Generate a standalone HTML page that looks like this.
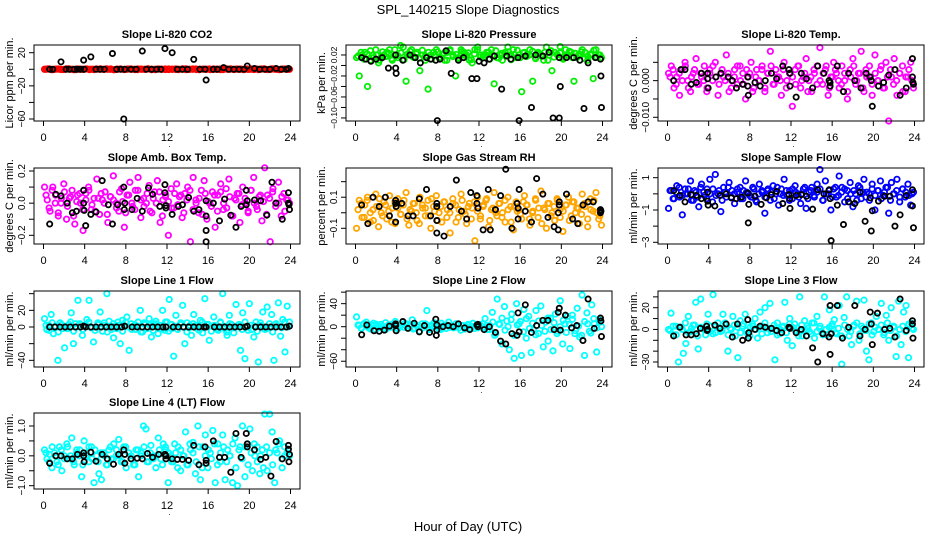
<!DOCTYPE html>
<html><head><meta charset="utf-8"><title>SPL_140215 Slope Diagnostics</title>
<style>html,body{margin:0;padding:0;background:#fff}svg{display:block;font-family:"Liberation Sans",Arial,sans-serif}</style>
</head><body>
<svg id="chart" width="936" height="540" viewBox="0 0 936 540" xmlns="http://www.w3.org/2000/svg">
<rect width="936" height="540" fill="#fff"/>
<text x="468" y="14" font-size="13" text-anchor="middle">SPL_140215  Slope Diagnostics</text>
<text x="468" y="531" font-size="13" text-anchor="middle">Hour of Day (UTC)</text>
</svg>
<script>
const xTicks=[0,4,8,12,16,20,24];

const co2Values=[0,0.5,-0.5,0,0.3,-0.3,0,0.5,0,-0.5,0.2,0,0.4,-0.4,0,0.3,0,-0.2,0.5,0,-0.5,0,0.3,-0.3,0,0.4,0,-0.4,0.2,0,0.5,-0.5,0,0.3,0,-0.3,0.4,0,-0.2,0,0.5,-0.5,0,0.3,-0.3,0,0.2,0,-0.4,0.4,0,-0.5,0.3,0,0.5,-0.3,0,0.2,0,-0.2,0.4,0,-0.4,0.3,0,-0.3,0.5,0,-0.5,0.2,0,0];
const co2Core=[0,0.4,-0.4,0.2,0,-0.3,0.5,0,-0.5,0.3,0,-0.2,0.4,0,-0.4,0.1,0.5,-0.1,0,0.3,-0.5,0,0.2,-0.3,0.4,0,-0.4,0.3,0,-0.2,0.5,0,-0.5,0.2,0,0.4,-0.3,0,0.3,-0.4,0,0.5,-0.2,0,0.3,-0.5,0.1,0,0.4,-0.3,0,0.2,-0.4,0.5,0,-0.2,0.3,0,-0.5,0.4,0,-0.3,0.2,0,0.5,-0.4,0,0.3,-0.1,0,0.4,0];
const co2BlackHours=[0.6,0.9,1.7,2.2,2.5,3,3.3,3.6,3.9,3.95,4.6,5.1,5.5,5.9,6.7,7.1,7.5,7.8,7.9,8.5,9,9.6,10,10.5,11,11.4,11.8,12.5,13,13.5,14,14.6,15.2,15.7,15.8,16.5,16.9,17.5,18,18.5,19,19.5,19.8,20.5,21,21.5,22,22.6,23.1,23.6,23.8];
const co2BlackValues=[0,0,9,0,0,0,0,0,11,0,15,0,0,0,19,0,0,-60,0,0,0,22,0,0,0,0,25,20,0,0,0,12,0,0,-13,0,0,2,0,0,0,0,4,1,0,0,0,1,0,0,1];

const presValues=[0.015,-0.02,0.02,0.025,-0.04,0.01,0.02,0.03,0.005,0.015,0.02,0.025,0.03,0.01,0.02,0.015,0.038,0.035,-0.03,0.02,0.03,0.015,0.025,-0.01,0.02,0.01,-0.045,0.02,0.025,0.03,0.015,0.02,0.01,0.025,0.03,0.02,-0.02,0.015,0.03,0.025,0.02,0.01,0.005,0.03,0.035,0.02,0.015,0.02,0.025,0.03,-0.035,0.015,0.02,0.01,0.025,0.035,0.02,0.03,0.015,0.02,-0.05,0.025,0.02,0.03,-0.03,0.015,0.025,0.02,0.01,0.035,0.02,-0.01,0.025,0.02,0.036,0.015,0.03,0.02,0.025,-0.03,0.015,0.02,0.03,0.025,0.01,0.02,-0.025,0.03,0.02,0.015];
const presCore=[0.018,0.025,0.012,0.022,0.028,0.015,0.02,0.01,0.026,0.017,0.023,0.013,0.03,0.019,0.024,0.011,0.021,0.027,0.016,0.022,0.014,0.029,0.018,0.025,0.012,0.02,0.026,0.015,0.023,0.01,0.028,0.017,0.021,0.013,0.027,0.019,0.024,0.011,0.022,0.03,0.016,0.02,0.025,0.012,0.018,0.028,0.014,0.023,0.019,0.026,0.011,0.021,0.029,0.015,0.024,0.017,0.02,0.027,0.013,0.022,0.018,0.025,0.01,0.028,0.016,0.021,0.024,0.012,0.019,0.027,0.015,0.023,0.02,0.026,0.013,0.018,0.022,0.029,0.016,0.02];
const presBlackHours=[0.6,1,1.5,2,2.6,3.2,3.9,3.95,3.9,4.6,5.3,5.8,6.3,6.9,7.3,7.8,7.95,8.2,8.8,9.3,10,10.5,11.3,11.8,12,12.5,13,13.5,14.2,14.7,15.1,15.8,15.9,16.5,17.1,17.5,18.2,18.8,19.2,19.8,19.9,19.8,20.5,21.2,21.8,22.2,22.6,23.3,23.8,23.85,23.9];
const presBlackValues=[0.015,0.012,0.008,0.012,0.015,-0.005,0.02,-0.015,-0.005,0.01,0.02,0.015,0.005,0.015,0.012,0.01,-0.105,0.012,0.028,-0.015,0.01,0.015,-0.025,-0.025,0.008,0.005,0.012,0.018,-0.045,0.018,0.012,0.015,-0.105,0.018,-0.08,0.02,0.018,0.025,-0.1,-0.1,-0.04,0.015,0.015,0.015,0.01,-0.082,0.005,0.015,0.012,-0.02,-0.08];

const ltempValues=[0.002,0.004,-0.002,0.001,-0.004,0.003,0.005,0.000,-0.003,0.002,0.006,-0.001,0.001,0.004,-0.002,0.003,0.000,0.005,-0.004,0.002,0.001,0.007,-0.003,0.000,0.003,-0.001,0.004,0.002,-0.005,0.001,0.005,-0.002,0.003,0.000,0.004,-0.003,0.002,0.008,-0.001,0.003,0.001,-0.004,0.005,0.000,0.002,-0.007,0.003,0.004,-0.002,0.001,0.006,0.000,-0.003,0.002,0.004,0.009,-0.001,0.003,-0.004,0.001,0.005,0.002,-0.002,0.004,0.000,-0.005,0.003,0.006,-0.001,0.002,0.008,-0.003,0.001,0.004,-0.004,0.007,0.000,0.003,-0.002,0.005,-0.011,0.001,0.006,-0.004,0.002,0.004,-0.003,0.001,0.005,-0.002];
const ltempCore=[0.001,0.003,-0.001,0.002,0,0.004,-0.002,0.001,0.003,-0.001,0.002,0,-0.003,0.002,0.004,0.001,-0.001,0.003,0,0.002,-0.002,0.001,0.004,0,-0.001,0.003,0.002,-0.003,0.001,0,0.003,-0.002,0.002,0.004,-0.001,0.001,0,0.003,-0.002,0.002,0.001,-0.001,0.004,0,0.002,-0.003,0.001,0.003,-0.001,0,0.002,0.004,-0.002,0.001,0.003,0,-0.001,0.002,-0.003,0.001,0.004,0,0.002,-0.002,0.003,0.001,-0.001,0.002,0,0.004,-0.002,0.001,0.003,-0.001,0,0.002,-0.003,0.001,0.003,0];
const ltempBlackHours=[0.6,1.3,1.7,2.3,2.8,3.3,3.9,3.9,3.95,4.7,5.2,5.9,6.3,6.7,7.3,7.8,7.8,7.85,8.5,9,9.5,10.1,10.6,11.2,11.8,11.9,11.9,12.5,13,13.5,14.1,14.6,15.2,15.7,15.8,15.8,16.5,17.1,17.6,18.2,18.8,19.3,19.7,19.8,19.9,20.5,21,21.5,22.1,22.6,23.2,23.8,23.8,23.85,23.9];
const ltempBlackValues=[0.000,0.003,0.003,-0.001,-0.0005,0.002,0.002,0.0005,-0.002,0.001,0.002,0.001,0.000,-0.002,-0.001,0.001,-0.0015,-0.004,-0.0005,-0.0015,0.000,0.002,0.0005,0.004,0.003,0.002,-0.0015,-0.0045,0.002,0.0005,-0.002,0.004,0.002,0.000,-0.0005,-0.0015,0.004,-0.003,0.002,0.000,-0.002,0.002,0.001,0.000,-0.007,-0.0015,-0.0005,0.0015,0.003,-0.004,-0.002,0.006,0.001,-0.0005,-0.001];

const ambValues=[0.1,0.02,-0.05,0.1,0.05,-0.08,0.0,0.12,-0.1,0.03,0.08,-0.13,0.05,0.0,-0.17,0.06,0.1,-0.04,0.03,0.15,-0.07,0.02,0.07,-0.12,0.04,0.17,0.0,-0.05,0.09,-0.15,0.05,0.13,-0.02,0.08,0.16,-0.09,0.03,0.0,0.11,-0.06,0.07,0.14,-0.12,0.02,0.05,-0.2,0.09,-0.03,0.12,0.04,-0.09,0.06,0.1,-0.24,0.16,0.02,-0.06,0.08,0.14,-0.1,0.0,0.07,-0.15,0.05,0.12,-0.04,0.09,0.15,-0.08,0.03,0.06,-0.12,0.1,0.0,-0.05,0.08,0.16,-0.02,0.04,-0.11,0.22,0.05,-0.24,0.09,0.0,0.13,-0.08,0.06,0.02,0.0];
const ambCore=[0.05,-0.03,0.08,0,-0.06,0.03,0.07,-0.02,0.04,-0.08,0.01,0.06,-0.04,0.02,0.08,-0.01,-0.05,0.03,0.06,0,-0.07,0.04,0.02,-0.03,0.07,0.01,-0.06,0.05,0,-0.04,0.08,0.02,-0.02,0.06,-0.05,0.03,0,0.07,-0.08,0.04,0.01,-0.03,0.06,-0.01,0.05,-0.06,0.02,0.08,-0.04,0,0.03,-0.07,0.06,0.01,-0.02,0.05,-0.05,0.07,0,-0.03,0.04,-0.08,0.02,0.06,-0.01,0.03,-0.06,0.08,0,-0.04,0.05,0.01,-0.07,0.03,0.07,-0.02,0,0.04,-0.05,0.02];
const ambBlackHours=[0.6,1.2,1.7,2.3,2.8,3.2,3.9,3.9,3.95,4.1,4.6,5.1,5.7,6.3,6.7,7.2,7.8,7.9,7.85,8.6,9.1,9.6,10.2,10.6,11.3,11.8,11.8,11.9,11.9,12.5,13.1,13.5,14.1,14.6,15.1,15.8,15.8,15.8,15.8,16.5,17.1,17.6,18.2,18.7,19.2,19.7,19.8,19.7,20.5,21.1,21.7,22.2,22.6,23.2,23.8,23.8,23.85,23.9];
const ambBlackValues=[-0.13,0.055,0.045,0.0,-0.06,-0.05,0.08,0.0,-0.045,-0.14,-0.07,-0.055,0.14,-0.01,-0.13,-0.01,0.1,0.0,-0.04,-0.04,0.03,-0.05,0.095,0.055,-0.02,0.115,0.065,-0.015,-0.03,-0.07,-0.02,-0.01,0.035,-0.05,-0.04,0.015,-0.08,-0.17,-0.24,0.0,-0.11,0.025,-0.075,-0.15,-0.02,0.08,0.015,-0.01,0.02,0.015,-0.075,0.13,0.0,-0.1,0.065,0.0,-0.01,-0.04];

const rhValues=[-0.1,0.08,-0.03,0.05,0.1,-0.06,0.02,0.12,-0.09,0.0,0.07,-0.04,0.11,0.03,-0.07,0.09,-0.01,0.05,0.13,-0.08,0.01,0.06,-0.05,0.1,0.03,-0.02,0.08,-0.1,0.04,0.11,0.0,-0.06,0.07,0.02,-0.13,0.09,0.05,-0.03,0.12,0.01,-0.07,0.06,0.03,-0.18,0.1,-0.04,0.04,0.08,-0.09,0.02,0.13,-0.02,0.06,0.0,-0.06,0.1,0.04,-0.11,0.07,0.02,-0.04,0.11,0.05,-0.08,0.01,0.09,-0.03,0.14,0.03,-0.1,0.06,0.0,-0.05,0.08,0.02,-0.12,0.05,0.1,-0.02,0.07,0.03,-0.07,0.12,0.04,-0.09,0.09,0.01,0.13,-0.04,-0.08];
const rhCore=[0.02,0.06,-0.03,0.08,0,-0.05,0.04,0.09,-0.02,0.05,0.01,-0.06,0.07,0.03,-0.01,0.08,-0.04,0.02,0.06,0,-0.07,0.05,0.03,-0.02,0.09,0.01,-0.05,0.04,0.07,-0.03,0,0.06,-0.06,0.02,0.08,-0.01,0.04,-0.04,0.07,0.01,-0.02,0.05,0.09,-0.05,0.03,0,0.06,-0.03,0.08,0.02,-0.06,0.04,0.01,-0.01,0.07,0.05,-0.04,0,0.08,0.03,-0.07,0.02,0.06,-0.02,0.04,0.09,-0.03,0.01,0.05,-0.05,0.07,0,0.03,-0.01,0.06,-0.04,0.02,0.08,0,-0.02];
const rhBlackHours=[0.6,1.2,1.7,2.3,2.9,3.3,3.9,3.9,3.95,3.9,4.5,5.1,5.6,6.2,6.9,7.3,7.9,7.9,7.9,7.9,8.6,9.2,9.8,10.3,10.8,11.2,11.8,11.8,11.9,12.4,12.9,13.1,13.6,14.1,14.6,15.2,15.7,15.8,15.8,15.9,16.5,17.1,17.6,18.2,18.7,19.3,19.8,19.8,19.7,19.7,20.5,21.1,21.6,22.1,22.6,23.1,23.8,23.8,23.85];
const rhBlackValues=[0.05,-0.07,0.1,0.04,0.1,-0.02,0.08,0.06,0.04,-0.06,0.06,-0.02,-0.02,0.09,0.15,-0.02,0.06,0.04,-0.05,-0.13,-0.15,0.04,0.21,0.01,-0.04,0.13,0.11,0.06,0.03,-0.11,0.15,-0.11,0.02,0.11,0.28,-0.1,0.06,0.03,-0.04,0.15,0.01,-0.06,0.22,0.12,-0.03,-0.09,0.07,0.05,-0.11,0.0,0.12,-0.04,-0.07,0.05,0.07,0.07,0.02,0.0,0.01];

const sflowValues=[-0.9,0.2,-0.3,0.5,-0.2,-1.3,0.3,0.0,0.8,-0.4,0.1,-0.8,0.6,-0.1,0.3,0.9,-0.5,1.2,0.0,-1.1,0.4,-0.2,0.7,0.2,-0.6,0.1,0.4,-0.3,0.8,0.0,-0.2,0.3,-0.5,0.6,0.1,-1.2,0.2,-0.4,0.5,0.0,-0.7,0.3,0.9,-0.1,0.2,-0.3,0.5,0.0,-0.6,0.3,-0.9,0.1,0.4,-0.2,0.6,1.5,-0.4,0.8,0.0,-1.0,0.3,-0.2,1.1,0.4,-0.5,0.2,0.7,-0.8,0.0,0.5,-0.3,0.9,0.1,-0.4,0.6,-1.0,0.2,0.8,-0.1,0.4,-1.2,0.7,0.0,0.9,-0.5,0.3,-0.2,0.6,-0.7,0.1];
const sflowCore=[0.2,-0.3,0.1,0.4,-0.1,0,0.3,-0.4,0.2,-0.2,0.4,0.1,-0.3,0,0.3,-0.1,0.2,-0.4,0.1,0.4,-0.2,0,0.3,-0.3,0.2,0.1,-0.1,0.4,-0.4,0,0.2,-0.2,0.3,0.1,-0.3,0.4,0,-0.1,0.2,-0.4,0.3,0.1,-0.2,0,0.4,-0.3,0.2,-0.1,0.1,0.3,-0.4,0,0.2,-0.2,0.4,-0.1,0.1,0.3,-0.3,0,0.2,-0.4,0.4,0.1,-0.2,0,0.3,-0.1,0.2,-0.3,0.1,0.4,-0.4,0,0.2,-0.2,0.3,0.1,-0.1,0];
const sflowBlackHours=[0.6,1.2,1.7,2.3,2.8,3.3,3.9,3.9,3.95,4.6,5.1,5.7,6.2,6.7,7.2,7.8,7.9,7.85,8.5,9.1,9.6,10.1,10.6,11.2,11.8,11.9,11.9,12.5,13,13.5,14.1,14.6,15.2,15.7,15.8,15.9,16.5,17.1,17.6,18.2,18.7,19.2,19.7,19.8,19.9,20.5,21.1,21.6,22.1,22.6,23.2,23.8,23.8,23.9];
const sflowBlackValues=[0.2,-0.1,-0.5,-0.05,-0.1,-0.3,0.1,-0.45,-0.7,-0.75,-0.1,0.0,-0.25,-0.3,-0.2,0.05,-0.65,-1.8,-0.15,-0.65,-0.25,-0.05,0.15,-0.6,-0.05,-0.3,-0.9,-0.1,-0.05,-0.15,-0.95,0.25,0.0,0.25,-0.3,-2.9,-0.7,-1.9,-0.5,-0.6,0.1,-1.7,-0.25,-2.3,-1.05,-0.45,-0.15,-0.15,-2.0,-1.3,-0.1,0.25,-0.75,-2.1];

const l1Values=[10,-3,2,15,-8,1,-40,5,-2,-25,0,3,17,-20,4,32,3,-10,2,9,32,-1,-18,0,5,18,-5,2,40,7,-3,-13,2,6,-20,8,1,12,-28,4,0,-3,6,20,-6,3,-2,10,-12,4,7,-8,2,20,-4,6,33,-2,-35,14,0,3,26,-20,5,-1,-10,15,2,-3,8,-7,34,3,-16,1,12,0,-4,6,40,-2,-10,14,3,-7,27,1,-28,17,-38,0,28,-3,-12,6,-42,2,18,-3,24,0,15,-40,4,29,-11,9,-30,25,6];
const l1Core=[2,-4,5,0,-6,3,1,-2,6,-5,0,4,-3,2,6,-1,-4,3,0,5,-6,1,4,-2,2,-5,6,0,-3,3,1,-6,5,-1,2,-4,4,0,-2,6,-5,3,1,-3,5,0,-6,2,4,-1,-4,6,0,3,-5,2,-2,5,1,-6,4,-1,0,3,-3,6,-4,2,1,-5,5,0,-2,4,-6,3,1,-1,6,0];
const l1BlackHours=[0.6,1.1,1.6,2.1,2.6,3.1,3.6,3.9,4.1,4.6,5.1,5.6,6.1,6.6,7.1,7.6,7.9,8.6,9.1,9.6,10.1,10.6,11.1,11.6,11.9,12.6,13.1,13.6,14.1,14.6,15.1,15.6,15.8,16.6,17.1,17.6,18.1,18.6,19.1,19.6,19.8,20.6,21.1,21.6,22.1,22.6,23.1,23.6,23.9];
const l1BlackValues=[0,0,0,0,0,0,0,1,0,0,0,0,0,0,0,0,1,0,0,0,0,0,0,0,0,0,0,0,0,0,0,0,0,0,0,0,0,0,0,0,1,0,0,0,0,0,0,0,1];

const l2Values=[17,2,-3,5,8,-2,3,6,-5,1,4,-3,7,2,-1,5,9,-4,0,3,6,-2,4,12,-3,1,-8,5,2,28,-5,3,7,0,-4,6,2,-3,8,1,-2,5,3,-6,2,0,4,-3,6,1,-2,3,5,14,-5,2,25,-15,48,4,-30,35,10,-40,22,-55,40,5,-50,30,-20,18,-45,-5,28,-12,36,-35,8,-25,15,-42,22,-8,45,-30,5,18,-38,20,-12,32,-18,55,-50,24,-8,38,5,-44,12,0];
const l2Core=[3,-2,5,0,-4,2,4,-1,1,-5,3,0,5,-3,2,-1,4,0,-4,3,1,-2,5,-3,0,2,4,-5,1,3,-1,0,5,-2,2,-4,3,1,-3,4,0,-1,2,-5,8,-12,5,15,-6,0,12,-15,3,9,-9,14,-3,6,-14,10,2,-8,15,-5,7,-12,0,11,-10,4,13,-7,1,-15,9,5,-11,14,-2,8];
const l2BlackHours=[0.6,1.1,1.8,2.3,2.8,3.3,3.9,3.9,3.95,4.6,5.1,5.7,6.2,6.7,7.2,7.8,7.9,7.9,7.85,8.5,9,9.5,10,10.6,11.1,11.8,11.9,11.9,12.5,13,13.6,14.1,14.6,15.2,15.7,15.8,15.9,16.5,17.1,17.6,18.2,18.7,19.3,19.7,19.8,19.9,20.4,21,21.5,22.1,22.6,23.2,23.8,23.85,23.9];
const l2BlackValues=[-14,3,-7,-8,-6,1,5,2,-7,9,-3,6,-9,2,-10,13,3,-6,-15,0,2,0,5,-2,-5,3,0,4,-5,0,-10,-25,-30,-12,-15,24,-9,38,-10,2,11,11,-5,25,32,-6,20,-2,2,-24,48,-3,15,10,-17];

const l3Values=[0,15,-5,3,-30,2,-22,-13,12,-2,4,25,-18,28,1,-5,14,3,32,-3,6,-2,14,4,-20,1,12,-6,-26,8,3,14,-4,2,5,10,-8,16,3,20,-3,24,1,-28,6,-4,2,25,-10,10,-15,5,1,30,-6,8,3,-2,6,-8,12,1,-3,30,-5,18,3,9,-4,22,-32,11,30,-6,-14,4,26,-10,3,27,-20,-28,6,-2,12,0,24,-5,13,-10,20,3,-25,26,-14,16,22,-26,6,0];
const l3Core=[-1,3,-5,2,0,6,-3,1,4,-6,2,0,5,-2,-4,3,1,-1,6,-5,0,4,2,-3,5,-1,-6,3,0,2,-4,6,1,-2,4,-5,0,3,-3,5,2,-1,-6,4,0,1,-4,6,-2,3,-5,0,2,5,-3,1,-6,4,0,-2,3,6,-4,1,-1,5,-5,2,0,4,-3,6,-1,2,-6,0,3,-2,5,1];
const l3BlackHours=[0.6,1.2,1.8,2.3,2.8,3.2,3.8,3.9,3.85,4.6,5.1,5.7,6.3,6.8,7.3,7.8,7.9,7.85,8.5,9,9.5,10.1,10.6,11.1,11.8,11.9,12.5,13,13.5,14.1,14.6,15.1,15.7,15.8,15.8,15.9,16.5,17,17.6,18.2,18.7,19.2,19.7,19.8,19.9,20.4,21.1,21.6,22.1,22.6,23.2,23.8,23.8,23.85];
const l3BlackValues=[-6,2,-5,-5,-4,1,3,0,-1,4,1,5,-7,5,-10,9,-3,-8,0,3,2,1,-1,-3,2,1,-3,0,-6,-17,-30,-4,-7,22,-23,-4,22,-8,2,22,-6,0,16,5,-14,15,0,1,-7,28,-1,8,5,-8];

const l4Values=[0.2,-0.1,0.05,-0.4,0.1,-0.2,0.3,-0.5,0.0,0.4,-0.1,0.6,-0.3,0.2,0.0,-0.7,0.5,0.1,-0.2,0.3,-0.9,0.0,-0.6,-0.8,0.1,-0.3,0.2,-0.1,0.4,0.0,0.55,-0.2,0.3,-0.4,0.1,0.0,-0.3,0.2,-0.7,0.1,1.0,0.9,-0.2,0.35,0.0,-0.4,0.6,-0.1,0.4,0.2,-0.9,0.0,-0.2,0.1,0.3,-0.5,0.0,0.8,-0.3,0.2,0.45,-0.6,1.0,-0.8,0.3,0.7,-0.4,0.1,0.85,-0.9,0.4,-0.2,0.7,-0.8,0.2,0.0,-0.9,0.6,-1.0,0.3,1.0,-0.7,0.4,0.9,-0.5,0.0,0.3,-0.6,0.2,1.4,-0.5,1.4,0.8,-0.9,0.1,0.5,-0.4,0.3,0.1,0.0];
const l4Core=[0.1,-0.2,0.3,0,-0.3,0.2,-0.1,0.3,0,-0.2,0.1,0.2,-0.3,0,0.3,-0.1,0.2,-0.2,0.1,0,-0.3,0.3,-0.1,0.2,0,-0.2,0.3,0.1,-0.1,-0.3,0.2,0,0.3,-0.2,0.1,-0.1,0,0.2,-0.3,0.3,0.1,-0.2,0.4,-0.4,0.2,0,-0.3,0.4,0.1,-0.2,0.3,-0.4,0,0.2,-0.1,0.4,-0.3,0.1,0.3,-0.2,0,0.4,-0.4,0.2,-0.1,0.3,-0.3,0.1,0.4,-0.2,0,-0.4,0.3,0.1,-0.3,0.2,0.4,-0.1,0,0.2];
const l4BlackHours=[0.6,1.2,1.7,2.3,2.8,3.3,3.9,3.9,3.95,4.6,5.1,5.7,6.2,6.8,7.3,7.8,7.9,7.9,8.5,9.1,9.6,10.1,10.6,11.2,11.8,11.9,11.9,12.5,13,13.5,14.1,14.6,15.1,15.7,15.8,15.8,16.5,17.1,17.6,18.2,18.7,19.2,19.7,19.8,19.8,20.5,21.1,21.6,22.1,22.6,23.2,23.8,23.8,23.85,23.9];
const l4BlackValues=[-0.25,0.0,0.0,-0.1,-0.1,0.05,0.1,0.0,-0.2,0.12,-0.18,0.05,-0.1,-0.28,0.05,0.2,0.05,-0.25,-0.1,-0.08,-0.1,0.08,-0.05,0.05,0.05,0.0,-0.1,-0.1,-0.12,-0.12,-0.15,0.35,-0.3,0.3,-0.25,-0.15,0.5,-0.05,-0.05,-0.55,0.75,-0.05,0.75,0.3,0.4,0.2,-0.12,-0.05,-0.68,0.48,-0.1,0.35,0.22,-0.2,0.05];

const panels=[
 {name:'co2',title:'Slope Li-820 CO2',ylab:'Licor ppm per min.',col:0,row:0,top:29.3,bot:-62.4,ticks:[20,0,-20,-40,-60],labels:['20','','\u221220','','\u221260'],fs:10,color:'#ff0000',vals:co2Values,core:co2Core,bh:co2BlackHours,bv:co2BlackValues},
 {name:'pressure',title:'Slope Li-820 Pressure',ylab:'kPa per min.',col:1,row:0,top:0.039,bot:-0.1058,ticks:[0.02,0,-0.02,-0.04,-0.06,-0.08,-0.10],labels:['0.02','','\u22120.02','','\u22120.06','','\u22120.10'],fs:8.5,color:'#00ee00',vals:presValues,core:presCore,bh:presBlackHours,bv:presBlackValues},
 {name:'li820-temp',title:'Slope Li-820 Temp.',ylab:'degrees C per min.',col:2,row:0,top:0.00972,bot:-0.01101,ticks:[0.005,0,-0.005,-0.010],labels:['','0.000','','\u22120.010'],fs:10,color:'#ff00ff',vals:ltempValues,core:ltempCore,bh:ltempBlackHours,bv:ltempBlackValues},
 {name:'amb-box-temp',title:'Slope Amb. Box Temp.',ylab:'degrees C per min.',col:0,row:1,top:0.2187,bot:-0.2541,ticks:[0.2,0.1,0,-0.1,-0.2],labels:['0.2','','0.0','','\u22120.2'],fs:10,color:'#ff00ff',vals:ambValues,core:ambCore,bh:ambBlackHours,bv:ambBlackValues},
 {name:'gas-stream-rh',title:'Slope Gas Stream RH',ylab:'percent per min.',col:1,row:1,top:0.288,bot:-0.201,ticks:[0.2,0.1,0,-0.1],labels:['','0.1','','\u22120.1'],fs:10,color:'#ffa500',vals:rhValues,core:rhCore,bh:rhBlackHours,bv:rhBlackValues},
 {name:'sample-flow',title:'Slope Sample Flow',ylab:'ml/min per min.',col:2,row:1,top:1.6,bot:-3.106,ticks:[1,0,-1,-2,-3],labels:['1','','\u22121','','\u22123'],fs:10,color:'#0000ff',vals:sflowValues,core:sflowCore,bh:sflowBlackHours,bv:sflowBlackValues},
 {name:'line1-flow',title:'Slope Line 1 Flow',ylab:'ml/min per min.',col:0,row:2,top:43.2,bot:-48,ticks:[40,20,0,-20,-40],labels:['','20','0','','\u221240'],fs:10,color:'#00ffff',vals:l1Values,core:l1Core,bh:l1BlackHours,bv:l1BlackValues},
 {name:'line2-flow',title:'Slope Line 2 Flow',ylab:'ml/min per min.',col:1,row:2,top:62,bot:-70,ticks:[60,40,20,0,-20,-40,-60],labels:['','40','','0','','','\u221260'],fs:10,color:'#00ffff',vals:l2Values,core:l2Core,bh:l2BlackHours,bv:l2BlackValues},
 {name:'line3-flow',title:'Slope Line 3 Flow',ylab:'ml/min per min.',col:2,row:2,top:35.4,bot:-34.6,ticks:[30,20,10,0,-10,-20,-30],labels:['','20','','0','','','\u221230'],fs:10,color:'#00ffff',vals:l3Values,core:l3Core,bh:l3BlackHours,bv:l3BlackValues},
 {name:'line4-flow',title:'Slope Line 4 (LT) Flow',ylab:'ml/min per min.',col:0,row:3,top:1.435,bot:-1.111,ticks:[1,0.5,0,-0.5,-1],labels:['1.0','','0.0','','\u22121.0'],fs:10,color:'#00ffff',vals:l4Values,core:l4Core,bh:l4BlackHours,bv:l4BlackValues}
];

const NS='http://www.w3.org/2000/svg';
const svg=document.getElementById('chart');
const colLefts=[34,346,658], rowTops=[45,168,291,413], BW=266, BH=76;
function mk(tag,attrs,parent){const e=document.createElementNS(NS,tag);for(const k in attrs)e.setAttribute(k,attrs[k]);parent.appendChild(e);return e;}

panels.forEach(p=>{
  const L=colLefts[p.col], T=rowTops[p.row], B=T+BH, R=L+BW;
  const xS=h=>L+9.5+h/24*(BW-19);
  const yS=v=>T+(p.top-v)/(p.top-p.bot)*BH;
  const g=mk('g',{},svg);
  
  
  const t=mk('text',{x:(L+R)/2,y:T-7,'font-size':11,'font-weight':'bold','text-anchor':'middle'},g);
  t.textContent=p.title;
  
  
  const yl=mk('text',{x:L-21,y:(T+B)/2,'font-size':11,'text-anchor':'middle',transform:`rotate(-90 ${L-21} ${(T+B)/2})`},g);
  yl.textContent=p.ylab;
  
  
  const xa=mk('g',{},g);
  
  
  mk('line',{x1:xS(0),x2:xS(24),y1:B,y2:B,stroke:'#000'},xa);
  xTicks.forEach(v=>{
    mk('line',{x1:xS(v),x2:xS(v),y1:B,y2:B+5,stroke:'#000'},xa);
    const tl=mk('text',{x:xS(v),y:B+20,'font-size':11,'text-anchor':'middle'},xa);
    tl.textContent=String(v);
    
    
  });
  mk('rect',{x:xS(12)+2,y:B+25,width:1,height:1,fill:'#555'},xa);
  const ya=mk('g',{},g);
  
  
  mk('line',{x1:L,x2:L,y1:yS(p.ticks[0]),y2:yS(p.ticks[p.ticks.length-1]),stroke:'#000'},ya);
  p.ticks.forEach((v,i)=>{
    mk('line',{x1:L-5,x2:L,y1:yS(v),y2:yS(v),stroke:'#000'},ya);
    if(p.labels[i]){
      const yy=yS(v);
      const tl=mk('text',{x:L-9,y:yy,'font-size':p.fs,'text-anchor':'middle',transform:`rotate(-90 ${L-9} ${yy})`},ya);
      tl.textContent=p.labels[i];
      
      
    }
  });
  const cg=mk('g',{fill:'none',stroke:p.color,'stroke-width':1.8},g);
  
  
  const n=p.vals.length;
  p.vals.forEach((v,i)=>{
    const hr=0.1+i*23.8/(n-1);
    const c=mk('circle',{cx:xS(hr),cy:yS(v),r:2.7},cg);
    
    
  });
  const m=p.core.length;
  p.core.forEach((v,i)=>{
    const hr=0.1+(i+0.5)*23.8/m;
    const c=mk('circle',{cx:xS(hr),cy:yS(v),r:2.7},cg);
    
    
  });
  const bg=mk('g',{fill:'none',stroke:'#000','stroke-width':1.8},g);
  
  
  p.bh.forEach((h,i)=>{
    const c=mk('circle',{cx:xS(h),cy:yS(p.bv[i]),r:2.6},bg);
    
    
  });
  const box=mk('rect',{x:L,y:T,width:BW,height:BH,fill:'none',stroke:'#000'},g);
  
  
});
</script>
</body></html>
